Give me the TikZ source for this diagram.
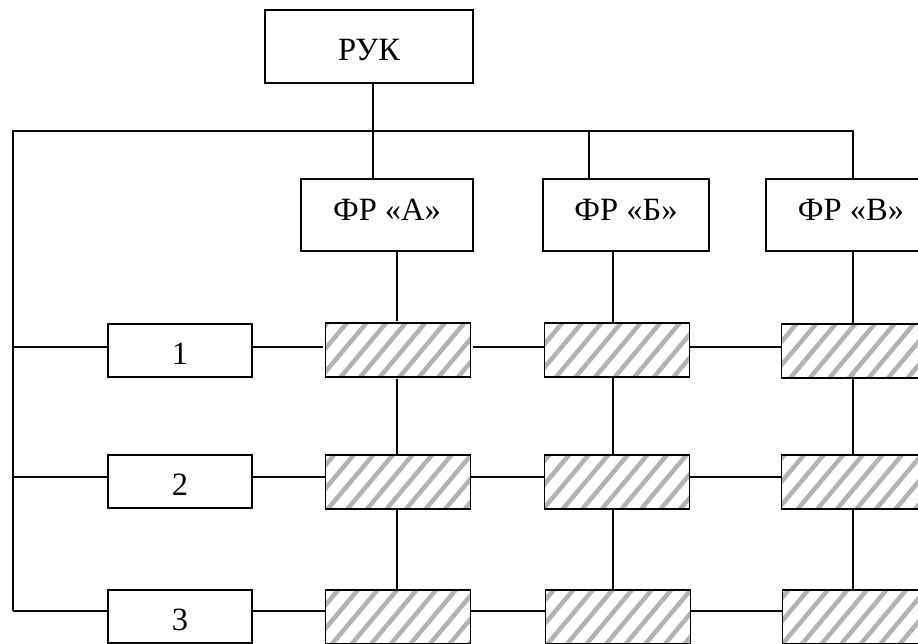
\documentclass[tikz,border=0pt]{standalone}
\usepackage{fontspec}
\setmainfont{Liberation Serif}
\usetikzlibrary{patterns.meta}
\begin{document}
\begin{tikzpicture}[x=1pt,y=-1pt,
  ln/.style={line width=1.8pt},
  box/.style={draw, line width=1.8pt, fill=white, inner sep=0pt,
    font=\fontsize{32.5}{38}\selectfont},
  lowtext/.style={text height=27pt, text depth=0pt},
  midtext/.style={text height=21pt, text depth=10pt},
  hbox/.style={draw, line width=1.8pt, inner sep=0pt,
    minimum width=145pt, minimum height=54pt,
    pattern={Lines[angle=50,distance=15pt,line width=4.5pt]},
    pattern color=gray!60}
]
\path[use as bounding box] (0,0) rectangle (918,643);
\clip (0,0) rectangle (918,643);

% boxes
\node[box, lowtext, minimum width=208pt, minimum height=73pt] (ruk) at (369,46.5) {РУК};
\node[box, midtext, minimum width=172pt, minimum height=72pt] (fa) at (387,215) {ФР «А»};
\node[box, midtext, minimum width=166pt, minimum height=72pt] (fb) at (626,215) {ФР «Б»};
\node[box, midtext, minimum width=170pt, minimum height=72pt] (fc) at (851,215) {ФР «В»};
\node[box, lowtext, minimum width=144pt, minimum height=53pt] (n1) at (180,350.5) {1};
\node[box, lowtext, minimum width=144pt, minimum height=53pt] (n2) at (180,481.5) {2};
\node[box, lowtext, minimum width=144pt, minimum height=53pt] (n3) at (180,616.5) {3};

% hatched boxes
\node[hbox] (a1) at (398,350) {};
\node[hbox] (b1) at (617,350) {};
\node[hbox] (c1) at (854,351) {};
\node[hbox] (a2) at (398,482) {};
\node[hbox] (b2) at (617,482) {};
\node[hbox] (c2) at (854,482) {};
\node[hbox] (a3) at (398,617) {};
\node[hbox] (b3) at (618,617) {};
\node[hbox] (c3) at (855,617) {};

% junction coordinates
\coordinate (bl) at (13,131);
\coordinate (jA) at (373,131);
\coordinate (jB) at (589,131);
\coordinate (br) at (853,131);
\coordinate (r1) at (13,347);
\coordinate (r2) at (13,477);
\coordinate (r3) at (13,611);
\coordinate (cA) at (397,0);
\coordinate (cB) at (613,0);
\coordinate (cC) at (853,0);

% top bus
\draw[ln] (ruk.south -| jA) -- (jA);
\draw[ln] (r3) -- (bl) -- (br) -- (fc.north -| br);
\draw[ln] (jA) -- (fa.north -| jA);
\draw[ln] (jB) -- (fb.north -| jB);

% rows
\draw[ln] (r1) -- (n1.west |- r1);
\draw[ln] (n1.east |- r1) -- (a1.west |- r1);
\draw[ln] (a1.east |- r1) -- (b1.west |- r1);
\draw[ln] (b1.east |- r1) -- (c1.west |- r1);

\draw[ln] (r2) -- (n2.west |- r2);
\draw[ln] (n2.east |- r2) -- (a2.west |- r2);
\draw[ln] (a2.east |- r2) -- (b2.west |- r2);
\draw[ln] (b2.east |- r2) -- (c2.west |- r2);

\draw[ln] (r3) -- (n3.west |- r3);
\draw[ln] (n3.east |- r3) -- (a3.west |- r3);
\draw[ln] (a3.east |- r3) -- (b3.west |- r3);
\draw[ln] (b3.east |- r3) -- (c3.west |- r3);

% columns
\draw[ln] (fa.south -| cA) -- (a1.north -| cA);
\draw[ln] (a1.south -| cA) -- (a2.north -| cA);
\draw[ln] (a2.south -| cA) -- (a3.north -| cA);
\draw[ln] (fb.south -| cB) -- (b1.north -| cB);
\draw[ln] (b1.south -| cB) -- (b2.north -| cB);
\draw[ln] (b2.south -| cB) -- (b3.north -| cB);
\draw[ln] (fc.south -| cC) -- (c1.north -| cC);
\draw[ln] (c1.south -| cC) -- (c2.north -| cC);
\draw[ln] (c2.south -| cC) -- (c3.north -| cC);
\end{tikzpicture}
\end{document}
